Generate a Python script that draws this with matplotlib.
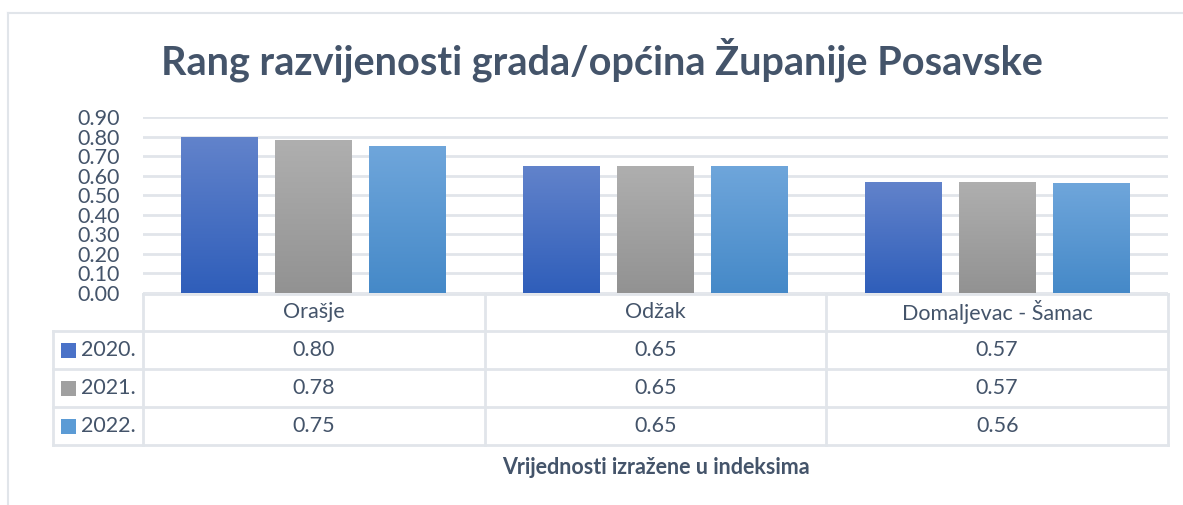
import numpy as np
import matplotlib
matplotlib.use("Agg")
import matplotlib.pyplot as plt
from matplotlib.lines import Line2D
from matplotlib.patches import Rectangle
from matplotlib.colors import LinearSegmentedColormap
import matplotlib.transforms as mtransforms

# ── DATA ──────────────────────────────────────────────────────────────────────
categories = ["Orašje", "Odžak", "Domaljevac - Šamac"]
years = ["2020.", "2021.", "2022."]
v2020 = [0.80, 0.65, 0.57]
v2021 = [0.78, 0.65, 0.57]
v2022 = [0.75, 0.65, 0.56]
series = [v2020, v2021, v2022]
yticks = [0.0, 0.1, 0.2, 0.3, 0.4, 0.5, 0.6, 0.7, 0.8, 0.9]

# gradient colours (top, bottom) per series
GRAD = [("#6283CB", "#2F5EBA"), ("#AFAFAF", "#929292"), ("#6FA6DB", "#4589C8")]
SWATCH = ["#4A72C8", "#A0A0A0", "#5B9BD5"]
TXT = "#44546A"
GRID = "#E1E5EA"
FONT = "Lato"
FS = 15.5

W, H = 1183, 505
fig = plt.figure(figsize=(W / 100, H / 100), dpi=100)
fig.patch.set_facecolor("white")

def fx(px):
    return px / W

def fy(py):
    return 1 - py / H

# outer frame (left + top only visible)
fig.add_artist(Line2D([fx(8), fx(8)], [fy(13), 0], color=GRID, lw=1.5))
fig.add_artist(Line2D([fx(8), 1], [fy(13), fy(13)], color=GRID, lw=1.5))

ax = fig.add_axes([fx(143), fy(293), fx(1168) - fx(143), fy(117) - fy(293)])
for s in ax.spines.values():
    s.set_visible(False)
ax.set_yticks(yticks)
ax.set_yticklabels([f"{t:.2f}" for t in yticks], fontsize=FS, color=TXT,
                   family=FONT)
ax.tick_params(axis="y", length=0, pad=17)
ax.set_xticks([])
ax.yaxis.grid(True, color=GRID, lw=2)
ax.set_axisbelow(True)

# ── BARS (vertical gradient, clipped to each bar) ─────────────────────────────
x = np.arange(len(categories))
step, width = 0.275, 0.225
grad = np.linspace(0, 1, 256).reshape(-1, 1)
for i, vals in enumerate(series):
    bars = ax.bar(x + (i - 1) * step, vals, width, color="none", zorder=2)
    cmap = LinearSegmentedColormap.from_list(f"g{i}", [GRAD[i][1], GRAD[i][0]])
    for b in bars:
        x0, h = b.get_x(), b.get_height()
        im = ax.imshow(grad, extent=[x0, x0 + b.get_width(), 0, h],
                       origin="lower", cmap=cmap, aspect="auto", zorder=2)
        im.set_clip_path(b)
ax.set_xlim(-0.5, 2.5)
ax.set_ylim(0, 0.9)

# title
fig.text(fx(602), fy(60), "Rang razvijenosti grada/općina Županije Posavske",
         ha="center", va="center", fontsize=28.5, fontweight="bold",
         color=TXT, family=FONT)

# ── DATA TABLE ────────────────────────────────────────────────────────────────
trans = mtransforms.blended_transform_factory(ax.transData, fig.transFigure)
row_y = [294, 331, 369, 407, 445]
tlw = 2
ax.add_artist(Line2D([-0.5, 2.5], [fy(294)] * 2, transform=trans, color=GRID,
                     lw=tlw, clip_on=False))
for yy in row_y[1:]:
    fig.add_artist(Line2D([fx(53), fx(1168)], [fy(yy)] * 2, color=GRID, lw=tlw))
for xb in [-0.5, 0.5, 1.5, 2.5]:
    ax.add_artist(Line2D([xb, xb], [fy(294), fy(445)], transform=trans,
                         color=GRID, lw=tlw, clip_on=False))
fig.add_artist(Line2D([fx(53), fx(53)], [fy(331), fy(445)], color=GRID, lw=tlw))

for j, c in enumerate(categories):
    ax.text(j, fy((294 + 331) / 2), c, transform=trans, ha="center",
            va="center", fontsize=FS, color=TXT, family=FONT, clip_on=False)
for i, vals in enumerate(series):
    yc = fy((row_y[i + 1] + row_y[i + 2]) / 2)
    for j, v in enumerate(vals):
        ax.text(j, yc, f"{v:.2f}", transform=trans, ha="center", va="center",
                fontsize=FS, color=TXT, family=FONT, clip_on=False)
    fig.add_artist(Rectangle((fx(61), yc - 7.5 / H), 15 / W, 15 / H,
                             facecolor=SWATCH[i], edgecolor="none"))
    fig.text(fx(81), yc, years[i], ha="left", va="center", fontsize=FS,
             color=TXT, family=FONT)

fig.text(fx(656), fy(467), "Vrijednosti izražene u indeksima", ha="center",
         va="center", fontsize=15.5, fontweight="bold", color=TXT, family=FONT)

fig.savefig("out.png", dpi=100)
